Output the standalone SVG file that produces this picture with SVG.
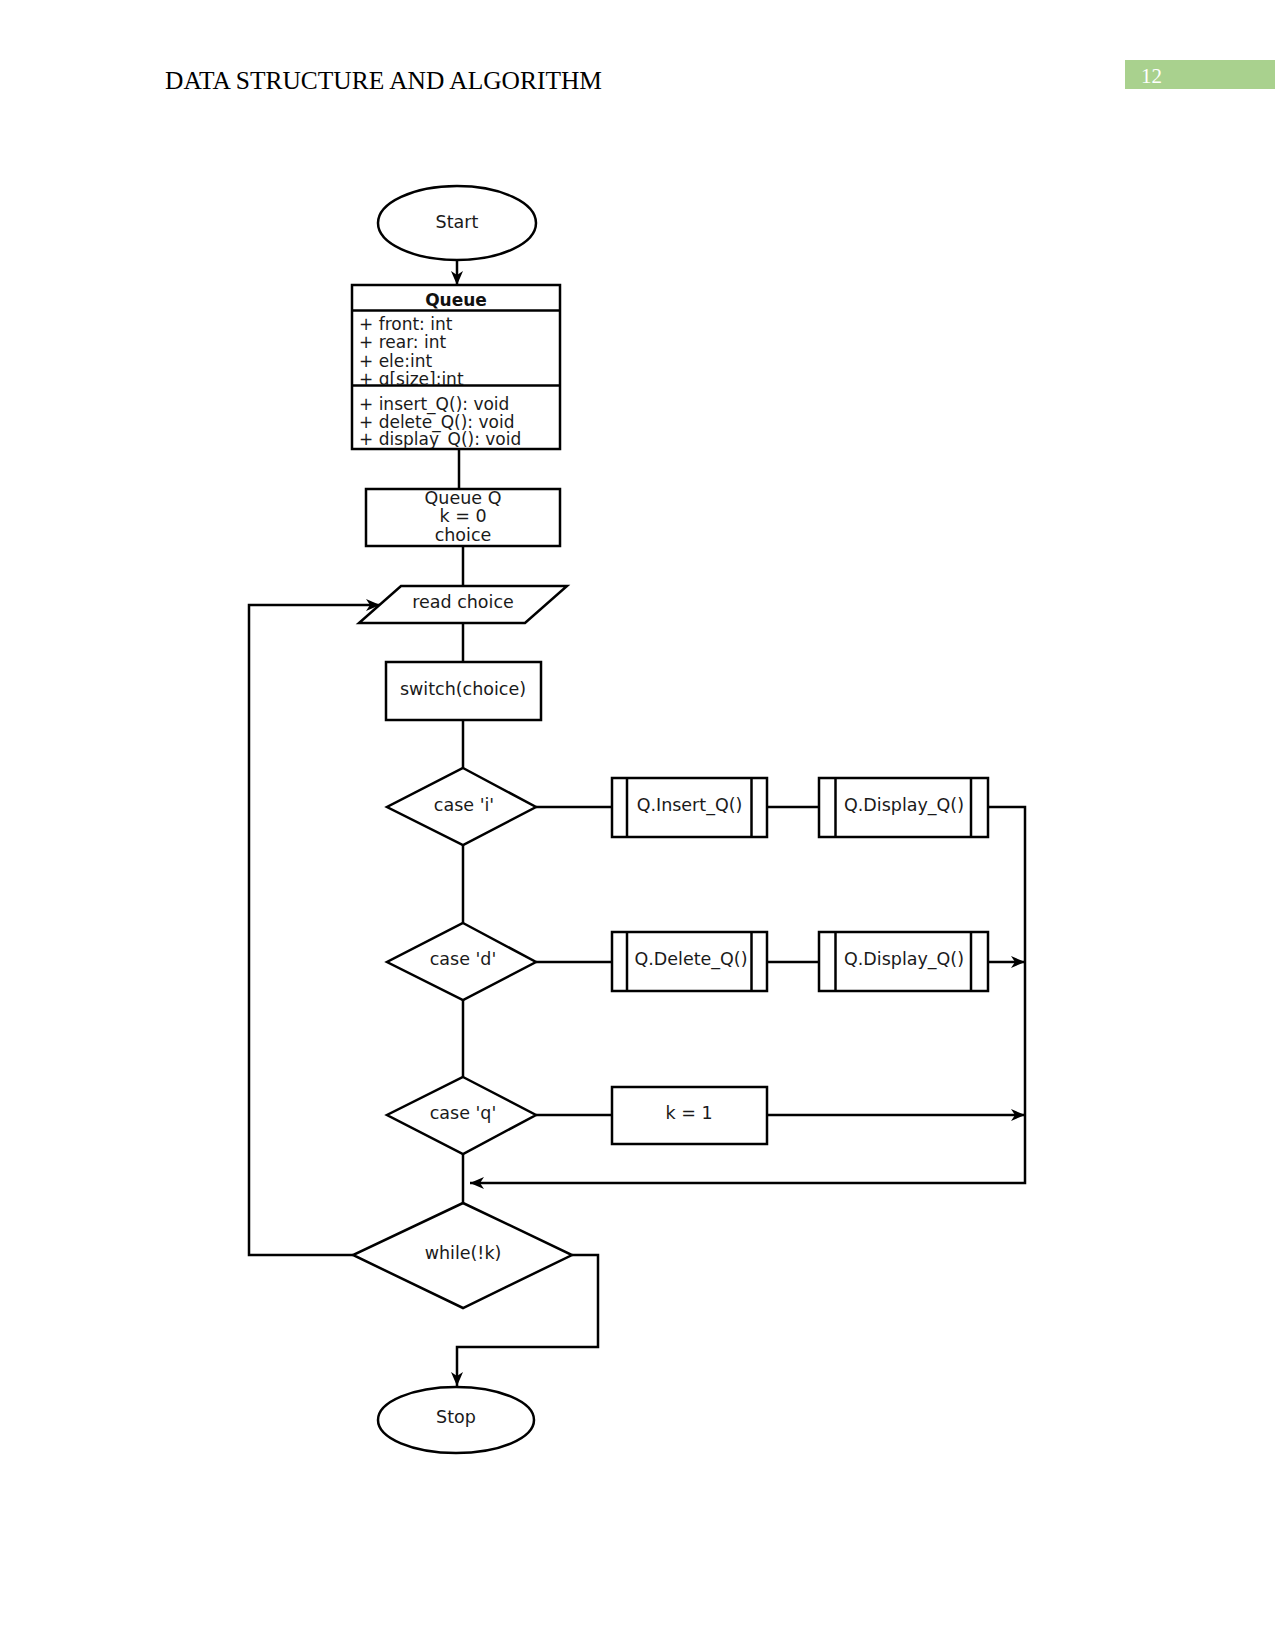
<svg xmlns="http://www.w3.org/2000/svg" width="1275" height="1651" viewBox="0 0 1275 1651">
<style>
  .shape { fill: #ffffff; stroke: #000000; stroke-width: 2.5; }
  .edge { fill: none; stroke: #000000; stroke-width: 2.5; }
  .t { font-family: "DejaVu Sans", "Liberation Sans", sans-serif; font-size: 17.5px; fill: #1a1a1a; text-anchor: middle; }
  .tl { font-family: "DejaVu Sans", "Liberation Sans", sans-serif; font-size: 17px; fill: #1a1a1a; }
  .tb { font-family: "DejaVu Sans", "Liberation Sans", sans-serif; font-size: 17px; font-weight: bold; fill: #111111; text-anchor: middle; }
</style>
<defs>
  <marker id="arr" markerUnits="userSpaceOnUse" markerWidth="16" markerHeight="14" refX="14" refY="6" orient="auto">
    <path d="M0,0 L14,6 L0,12 L4,6 Z" fill="#000000"/>
  </marker>
  <clipPath id="clipAttr"><rect x="352" y="311" width="208" height="74"/></clipPath>
  <clipPath id="clipMeth"><rect x="352" y="386" width="208" height="62"/></clipPath>
</defs>
<rect width="1275" height="1651" fill="#ffffff"/>

<g id="header">
  <text x="165" y="89" font-family="Liberation Serif, serif" font-size="25" fill="#000000" textLength="437" lengthAdjust="spacingAndGlyphs">DATA STRUCTURE AND ALGORITHM</text>
  <rect x="1125" y="60" width="150" height="29" fill="#a9d18e"/>
  <text x="1141" y="83" font-family="Liberation Serif, serif" font-size="21" fill="#ffffff">12</text>
</g>

<g id="connectors">
  <path class="edge" d="M457,260 L457,285" marker-end="url(#arr)"/>
  <path class="edge" d="M459,449 L459,489"/>
  <path class="edge" d="M463,546 L463,586"/>
  <path class="edge" d="M463,623 L463,662"/>
  <path class="edge" d="M463,720 L463,768"/>
  <path class="edge" d="M463,845 L463,923"/>
  <path class="edge" d="M463,1000 L463,1077"/>
  <path class="edge" d="M463,1154 L463,1203"/>
  <path class="edge" d="M536,807 L612,807"/>
  <path class="edge" d="M767,807 L819,807"/>
  <path class="edge" d="M988,807 L1025,807 L1025,1183 L470,1183" marker-end="url(#arr)"/>
  <path class="edge" d="M536,962 L612,962"/>
  <path class="edge" d="M767,962 L819,962"/>
  <path class="edge" d="M988,962 L1025,962" marker-end="url(#arr)"/>
  <path class="edge" d="M536,1115 L612,1115"/>
  <path class="edge" d="M767,1115 L1025,1115" marker-end="url(#arr)"/>
  <path class="edge" d="M353,1255 L249,1255 L249,605 L380,605" marker-end="url(#arr)"/>
  <path class="edge" d="M572,1255 L598,1255 L598,1347 L457,1347 L457,1386" marker-end="url(#arr)"/>
</g>

<g id="start">
  <ellipse class="shape" cx="457" cy="223" rx="79" ry="37"/>
  <text class="t" x="457" y="228">Start</text>
</g>

<g id="queue-class">
  <rect class="shape" x="352" y="285" width="208" height="164"/>
  <line class="edge" x1="352" y1="310.5" x2="560" y2="310.5"/>
  <line class="edge" x1="352" y1="385.5" x2="560" y2="385.5"/>
  <text class="tb" x="456" y="306">Queue</text>
  <g clip-path="url(#clipAttr)">
    <text class="tl" x="359" y="330">+ front: int</text>
    <text class="tl" x="359" y="348">+ rear: int</text>
    <text class="tl" x="359" y="366.5">+ ele:int</text>
    <text class="tl" x="359" y="384.5">+ q[size]:int</text>
  </g>
  <g clip-path="url(#clipMeth)">
    <text class="tl" x="359" y="410">+ insert_Q(): void</text>
    <text class="tl" x="359" y="427.5">+ delete_Q(): void</text>
    <text class="tl" x="359" y="445">+ display_Q(): void</text>
  </g>
</g>

<g id="init">
  <rect class="shape" x="366" y="489" width="194" height="57"/>
  <text class="t" x="463" y="503.5">Queue Q</text>
  <text class="t" x="463" y="522">k = 0</text>
  <text class="t" x="463" y="540.5">choice</text>
</g>

<g id="read-choice">
  <polygon class="shape" points="401,586 567,586 525,623 359,623"/>
  <text class="t" x="463" y="608">read choice</text>
</g>

<g id="switch">
  <rect class="shape" x="386" y="662" width="155" height="58"/>
  <text class="t" x="463" y="695">switch(choice)</text>
</g>

<g id="case-i">
  <polygon class="shape" points="463,768 536,807 463,845 387,807"/>
  <text class="t" x="464" y="811">case 'i'</text>
</g>

<g id="insert">
  <rect class="shape" x="612" y="778" width="155" height="59"/>
  <line class="edge" x1="627" y1="778" x2="627" y2="837"/>
  <line class="edge" x1="751.5" y1="778" x2="751.5" y2="837"/>
  <text class="t" x="689.5" y="811">Q.Insert_Q()</text>
</g>

<g id="display-1">
  <rect class="shape" x="819" y="778" width="169" height="59"/>
  <line class="edge" x1="835.5" y1="778" x2="835.5" y2="837"/>
  <line class="edge" x1="971" y1="778" x2="971" y2="837"/>
  <text class="t" x="904" y="811">Q.Display_Q()</text>
</g>

<g id="case-d">
  <polygon class="shape" points="463,923 536,962 463,1000 387,962"/>
  <text class="t" x="463" y="965">case 'd'</text>
</g>

<g id="delete">
  <rect class="shape" x="612" y="932" width="155" height="59"/>
  <line class="edge" x1="627" y1="932" x2="627" y2="991"/>
  <line class="edge" x1="751.5" y1="932" x2="751.5" y2="991"/>
  <text class="t" x="691" y="965">Q.Delete_Q()</text>
</g>

<g id="display-2">
  <rect class="shape" x="819" y="932" width="169" height="59"/>
  <line class="edge" x1="835.5" y1="932" x2="835.5" y2="991"/>
  <line class="edge" x1="971" y1="932" x2="971" y2="991"/>
  <text class="t" x="904" y="965">Q.Display_Q()</text>
</g>

<g id="case-q">
  <polygon class="shape" points="463,1077 536,1115 463,1154 387,1115"/>
  <text class="t" x="463" y="1118.5">case 'q'</text>
</g>

<g id="set-k">
  <rect class="shape" x="612" y="1087" width="155" height="57"/>
  <text class="t" x="689" y="1118.5">k = 1</text>
</g>

<g id="while">
  <polygon class="shape" points="463,1203 572,1255 463,1308 353,1255"/>
  <text class="t" x="463" y="1259">while(!k)</text>
</g>

<g id="stop">
  <ellipse class="shape" cx="456" cy="1420" rx="78" ry="33"/>
  <text class="t" x="456" y="1423">Stop</text>
</g>
</svg>
